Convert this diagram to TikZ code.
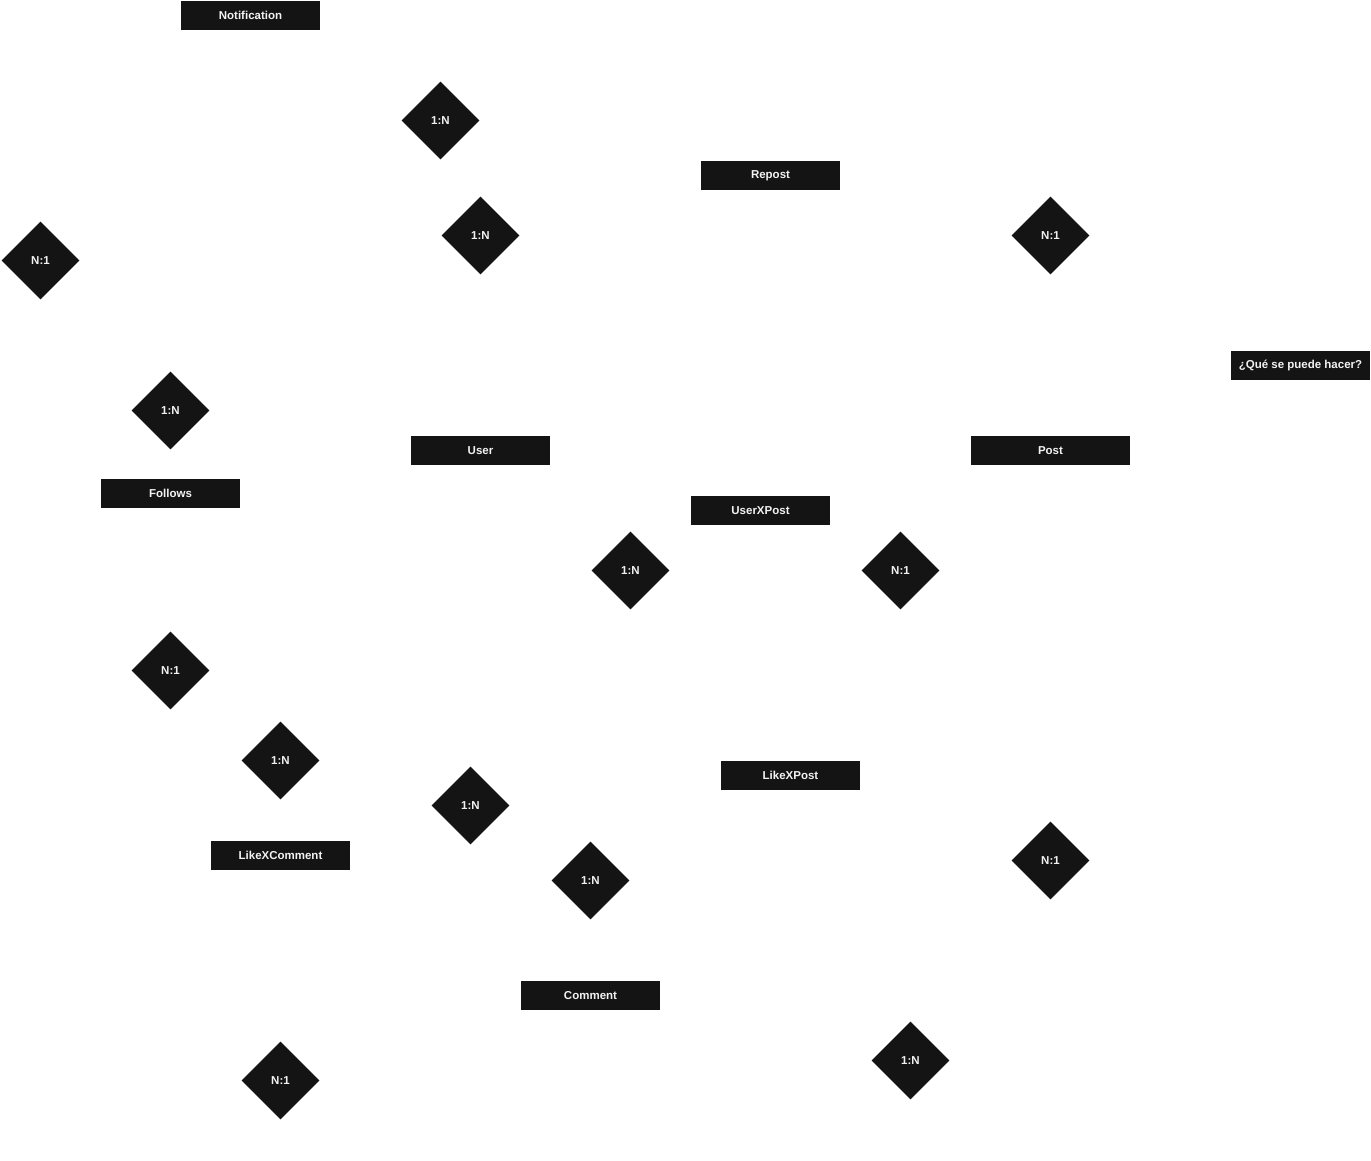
\documentclass[tikz,border=0pt]{standalone}
\usepackage{fontspec}
\setmainfont{Liberation Sans}
\usetikzlibrary{shapes.geometric}
\definecolor{boxfill}{HTML}{141414}
\definecolor{boxtext}{HTML}{F2F2F2}
\tikzset{
  entity/.style={rectangle, fill=boxfill, draw=none, text=boxtext, inner sep=0pt,
    minimum width=139pt, minimum height=29pt, font=\fontsize{11.5}{13}\selectfont\bfseries},
  relation/.style={diamond, aspect=1, fill=boxfill, draw=none, text=boxtext, inner sep=0pt,
    minimum width=78pt, minimum height=78pt, font=\fontsize{11.5}{13}\selectfont\bfseries}
}
\begin{document}
\begin{tikzpicture}[x=1pt,y=-1pt]
\useasboundingbox (0,0) rectangle (1371,1161);
% entities
\node[entity] (notification) at (250.5,15.5) {Notification};
\node[entity] (repost) at (770.5,175.5) {Repost};
\node[entity] (que) at (1300.5,365.5) {¿Qué se puede hacer?};
\node[entity] (user) at (480.5,450.5) {User};
\node[entity, minimum width=159pt] (post) at (1050.5,450.5) {Post};
\node[entity] (follows) at (170.5,493.5) {Follows};
\node[entity] (userxpost) at (760.5,510.5) {UserXPost};
\node[entity] (likexpost) at (790.5,775.5) {LikeXPost};
\node[entity] (likexcomment) at (280.5,855.5) {LikeXComment};
\node[entity] (comment) at (590.5,995.5) {Comment};
% relations
\node[relation] (r1) at (440.5,120.5) {1:N};
\node[relation] (r2) at (480.5,235.5) {1:N};
\node[relation] (r3) at (1050.5,235.5) {N:1};
\node[relation] (r4) at (40.5,260.5) {N:1};
\node[relation] (r5) at (170.5,410.5) {1:N};
\node[relation] (r6) at (630.5,570.5) {1:N};
\node[relation] (r7) at (900.5,570.5) {N:1};
\node[relation] (r8) at (170.5,670.5) {N:1};
\node[relation] (r9) at (280.5,760.5) {1:N};
\node[relation] (r10) at (470.5,805.5) {1:N};
\node[relation] (r11) at (590.5,880.5) {1:N};
\node[relation] (r12) at (1050.5,860.5) {N:1};
\node[relation] (r13) at (910.5,1060.5) {1:N};
\node[relation] (r14) at (280.5,1080.5) {N:1};
\end{tikzpicture}
\end{document}
